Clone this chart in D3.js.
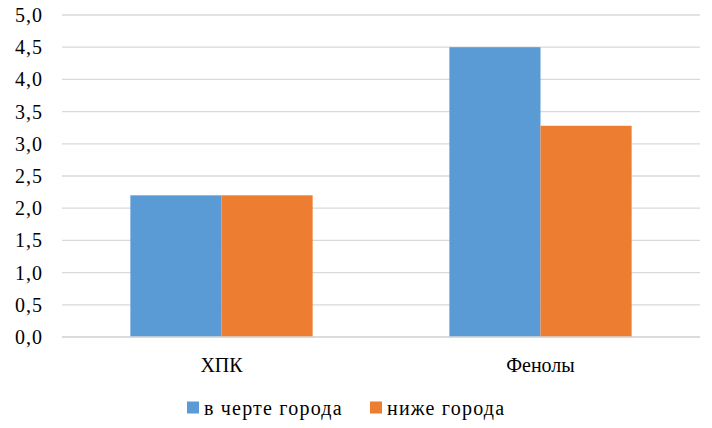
<!DOCTYPE html>
<html><head><meta charset="utf-8">
<script src="https://cdn.jsdelivr.net/npm/d3@7"></script>
<style>body{margin:0;background:#fff}svg{display:block}</style>
</head><body>
<svg id="c" width="712" height="428" font-family="Times New Roman"></svg>
<script>
const categories = ["ХПК", "Фенолы"];
const seriesNames = ["в черте города", "ниже города"];
const seriesColors = ["#5b9bd5", "#ed7d31"];
const valuesInCity = [2.2, 4.5];
const valuesBelowCity = [2.2, 3.28];
const yTicks = [0, 0.5, 1, 1.5, 2, 2.5, 3, 3.5, 4, 4.5, 5];

const FONT = "Times New Roman";
const svg = d3.select("#c");
const mLeft = 62, mRight = 700, mTop = 15, mBottom = 337;
const y = d3.scaleLinear().domain([0, 5]).range([mBottom, mTop]);
const x0 = d3.scaleBand().domain(categories).range([mLeft, mRight]).padding(0);
const bw = x0.bandwidth();
const off = bw * 1.5 / 3.5 / 2;
const x1 = d3.scaleBand().domain(seriesNames).range([off, bw - off]).padding(0);
const fmt = v => d3.format(".1f")(v).replace(".", ",");

svg.append("g").selectAll("line").data(yTicks).join("line")
  .attr("x1", mLeft).attr("x2", mRight)
  .attr("y1", d => y(d)).attr("y2", d => y(d))
  .attr("stroke", "#d9d9d9").attr("stroke-width", 1.3);

svg.append("g").selectAll("text").data(yTicks).join("text")
  .attr("x", 43).attr("y", d => y(d) + 7)
  .attr("text-anchor", "end").attr("font-size", 20)
  .attr("font-family", FONT).attr("letter-spacing", 1)
  .attr("fill", "#000")
  .text(fmt);

const data = categories.map((c, i) => ({ c, vals: [valuesInCity[i], valuesBelowCity[i]] }));
const g = svg.append("g").selectAll("g").data(data).join("g")
  .attr("transform", d => `translate(${x0(d.c)},0)`);
g.selectAll("rect").data(d => d.vals.map((v, j) => ({ v, s: seriesNames[j], col: seriesColors[j] })))
  .join("rect")
  .attr("x", d => x1(d.s)).attr("width", x1.bandwidth())
  .attr("y", d => y(d.v)).attr("height", d => y(0) - y(d.v))
  .attr("fill", d => d.col);

svg.append("line").attr("x1", mLeft).attr("x2", mRight).attr("y1", y(0)).attr("y2", y(0))
  .attr("stroke", "#d9d9d9").attr("stroke-width", 1.3);

svg.append("g").selectAll("text").data(categories).join("text")
  .attr("x", d => x0(d) + bw / 2).attr("y", 372)
  .attr("text-anchor", "middle").attr("font-size", 20)
  .attr("font-family", FONT)
  .attr("fill", "#000")
  .text(d => d);

const legX = [187, 370];
const lg = svg.append("g").selectAll("g").data(seriesNames).join("g")
  .attr("transform", (d, i) => `translate(${legX[i]},0)`);
lg.append("rect").attr("x", 0).attr("y", 401.5).attr("width", 12).attr("height", 12)
  .attr("fill", (d, i) => seriesColors[i]);
lg.append("text").attr("x", 17).attr("y", 415).attr("font-size", 20)
  .attr("font-family", FONT).attr("letter-spacing", 1.2)
  .attr("fill", "#000").text(d => d);
</script>
</body></html>
